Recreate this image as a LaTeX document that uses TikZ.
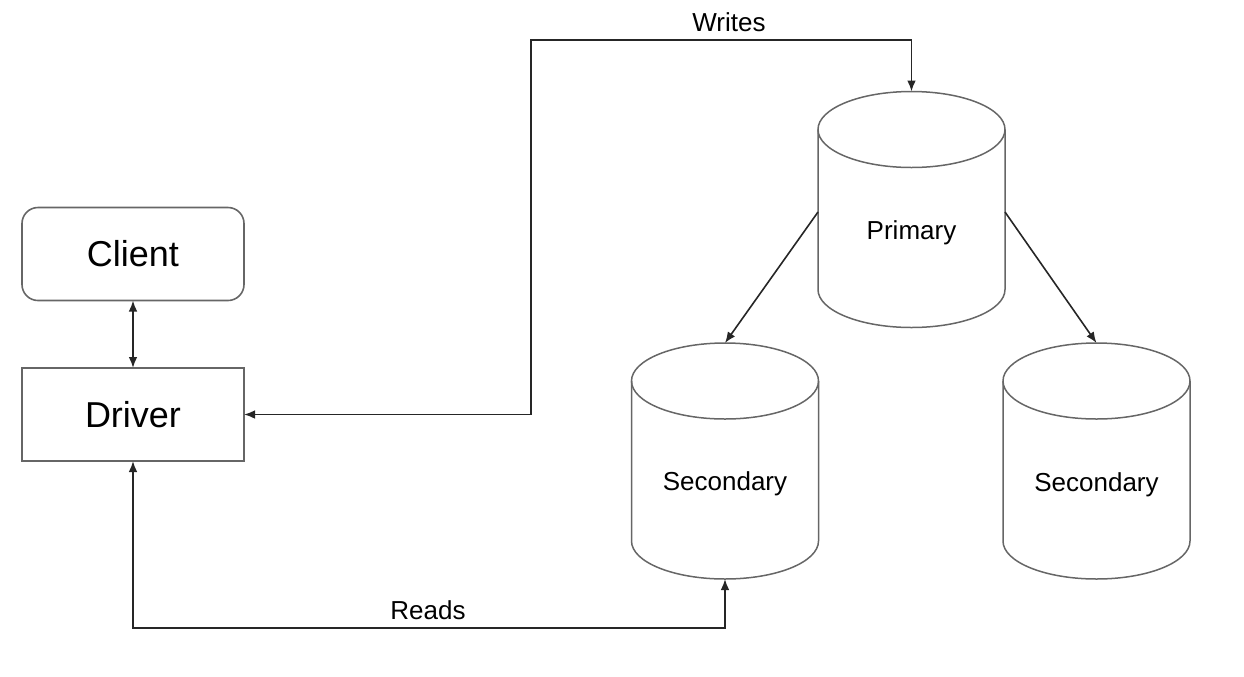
\documentclass[tikz,border=0pt]{standalone}
\usepackage{fontspec}
\setmainfont{Liberation Sans}
\usetikzlibrary{arrows.meta,calc}

\tikzset{
  boxline/.style={draw=black!60, line width=0.8pt},
  dbline/.style={draw=black!60, line width=0.75pt},
  tip/.style={Latex[length=5.5pt,width=4.4pt]},
  conn/.style={draw=black!85, line width=0.95pt, {Latex[length=5.5pt,width=4.4pt]}-{Latex[length=5.5pt,width=4.4pt]}},
  oneway/.style={draw=black!85, line width=0.8pt, -{Latex[length=5.5pt,width=4.4pt]}},
  bigbox/.style={boxline, minimum width=111pt, minimum height=46.5pt, inner sep=0pt, outer sep=0pt, font=\fontsize{18}{20}\selectfont},
  dbshape/.style={draw=none, minimum width=93.5pt, minimum height=118pt, inner sep=0pt, outer sep=0pt},
  dbtext/.style={font=\fontsize{13}{15}\selectfont},
  edgetext/.style={font=\fontsize{13}{15}\selectfont},
}

\begin{document}
\begin{tikzpicture}[x=0.5pt, y=-0.5pt]
  \useasboundingbox (0,0) rectangle (1244,676);

  % client and driver
  \node[bigbox, rounded corners=8pt] (client) at (133,254) {Client};
  \node[bigbox] (driver) at (133,414.5) {Driver};

  % database cylinders (outline drawn below from their anchors)
  \node[dbshape] (prim) at (911.5,209.5) {};
  \node[dbshape] (secl) at (725,461) {};
  \node[dbshape] (secr) at (1096.5,461) {};

  \foreach \n in {prim,secl,secr} {
    \draw[dbline] ([yshift=-19pt]\n.north) ellipse[x radius=46.75pt, y radius=19pt];
    \draw[dbline] ([yshift=-19pt]\n.north west) -- ([yshift=19pt]\n.south west)
      arc[start angle=180, end angle=360, x radius=46.75pt, y radius=19pt]
      -- ([yshift=-19pt]\n.north east);
  }

  \node[dbtext] (primlabel) at (911.5,233) {Primary};
  \node[dbtext] (secllabel) at (725,484) {Secondary};
  \node[dbtext] (secrlabel) at (1096.5,485) {Secondary};

  % connectors
  \draw[conn] (client.south) -- (driver.north);

  \coordinate (wturn) at (531,40);
  \draw[conn] (driver.east) -| (wturn) -| (prim.north);
  \node[edgetext] (writes) at (729,22) {Writes};

  \coordinate (rturn) at (725,628);
  \draw[conn] (driver.south) |- (rturn) -- (secl.south);
  \node[edgetext] (reads) at (428,610) {Reads};

  \draw[oneway] ([yshift=-1.25pt]prim.west) -- (secl.north);
  \draw[oneway] ([yshift=-1.25pt]prim.east) -- (secr.north);
\end{tikzpicture}
\end{document}
